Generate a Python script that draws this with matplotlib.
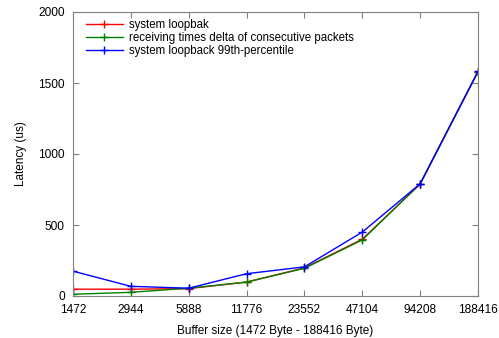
import matplotlib
matplotlib.use("Agg")
import matplotlib.pyplot as plt

categories = ["1472", "2944", "5888", "11776", "23552", "47104", "94208", "188416"]
loopbak = [48, 48, 52, 98, 198, 400, 788, 1580]
delta = [12, 26, 55, 98, 195, 395, 790, 1580]
p99 = [175, 68, 55, 157, 205, 450, 790, 1582]
y_ticks = [0, 500, 1000, 1500, 2000]

plt.rcParams['font.family'] = ['Liberation Sans', 'DejaVu Sans']
fig = plt.figure(figsize=(4.99, 3.38), dpi=100)
ax = fig.add_axes([73/499, 1-296/338, (478-73)/499, (296-12)/338])
x = list(range(len(categories)))
ax.plot(x, loopbak, color='#ff0000', marker='+', ms=6, lw=1, label='system loopbak')
ax.plot(x, delta, color='#008000', marker='+', ms=6, lw=1, label='receiving times delta of consecutive packets')
ax.plot(x, p99, color='#0000ff', marker='+', ms=6, lw=1, label='system loopback 99th-percentile')
ax.set_xlim(0, len(categories)-1)
ax.set_ylim(0, 2000)
ax.set_xticks(x)
ax.set_xticklabels(categories)
ax.set_yticks(y_ticks)
ax.tick_params(direction='in', top=True, right=True, labelsize=8.6, color='#808080', length=4, pad=6)
for s in ax.spines.values():
    s.set_color('#808080')
ax.set_xlabel('Buffer size (1472 Byte - 188416 Byte)', fontsize=8.5, labelpad=6)
ax.set_ylabel('Latency (us)', fontsize=8.5, labelpad=8)
ax.legend(loc='upper left', bbox_to_anchor=(0.015, 1.0), frameon=False, fontsize=8.3,
          handlelength=3.2, borderaxespad=0.2, labelspacing=0.1, handletextpad=0.5)
fig.savefig('out.png', dpi=100)
